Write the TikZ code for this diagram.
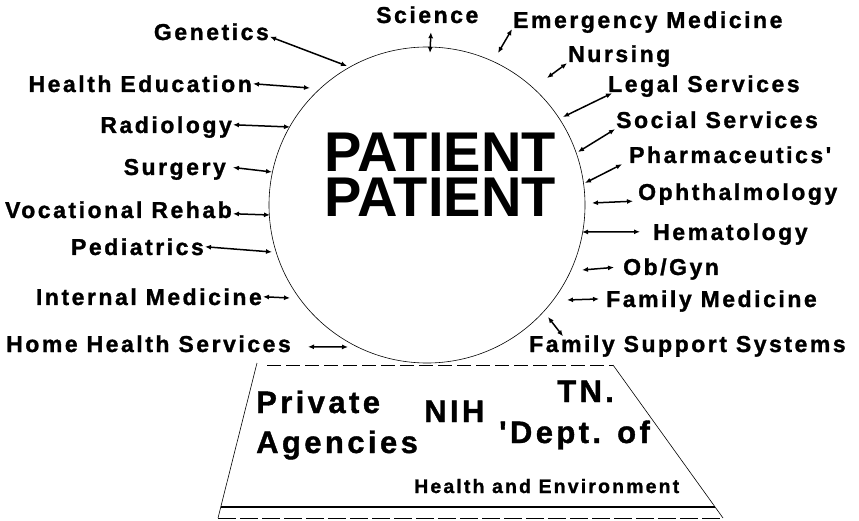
\documentclass[tikz,border=0pt]{standalone}
\usepackage{fontspec}
\setmainfont{Liberation Sans}
\newfontfamily\spacedfont{Liberation Sans Bold}[LetterSpace=11, FakeBold=1.2]
\usetikzlibrary{arrows.meta}

\tikzset{
  field/.style={font=\spacedfont\fontsize{23}{26}\selectfont,
    inner sep=1pt, text height=16.5pt, text depth=0pt},
  agency/.style={font=\spacedfont\fontsize{31}{34}\selectfont,
    inner sep=1pt, text height=22pt, text depth=0pt},
  title/.style={font=\bfseries\fontsize{56}{45}\selectfont,
    inner sep=0pt, text height=40pt, text depth=0pt},
  link/.style={<->, line width=1.5pt},
  rim/.style={line width=0.6pt},
}

\begin{document}
\begin{tikzpicture}[x=1pt, y=-1pt, >={Latex[length=6pt,width=5pt]}]
  \useasboundingbox (0,0) rectangle (859,521);

  % Circle
  \node[draw, circle, rim, minimum size=316pt] (pat) at (427,205) {};
  \node[title, anchor=base] (name1) at (440,172) {PATIENT};
  \node[title, anchor=base] (name2) at (440,217) {PATIENT};

  % Nodes (left)
  \node[field, anchor=base east] (gen) at (270,40) {Genetics};
  \node[field, anchor=base east] (hed) at (253,92) {Health Education};
  \node[field, anchor=base east] (rad) at (233,133) {Radiology};
  \node[field, anchor=base east] (sur) at (227,175) {Surgery};
  \node[field, anchor=base east] (voc) at (233,218) {Vocational Rehab};
  \node[field, anchor=base east] (ped) at (205,255) {Pediatrics};
  \node[field, anchor=base east] (int) at (263,305) {Internal Medicine};
  \node[field, anchor=base east] (hhs) at (292,352) {Home Health Services};

  % Nodes (right)
  \node[field, anchor=base west] (sci) at (375,23) {Science};
  \node[field, anchor=base west] (emr) at (512,28) {Emergency Medicine};
  \node[field, anchor=base west] (nur) at (567,62) {Nursing};
  \node[field, anchor=base west] (leg) at (607,92) {Legal Services};
  \node[field, anchor=base west] (soc) at (615,128) {Social Services};
  \node[field, anchor=base west] (pha) at (628,163) {Pharmaceutics'};
  \node[field, anchor=base west] (oph) at (637,200) {Ophthalmology};
  \node[field, anchor=base west] (hem) at (652,240) {Hematology};
  \node[field, anchor=base west] (obg) at (622,275) {Ob/Gyn};
  \node[field, anchor=base west] (fam) at (605,307) {Family Medicine};
  \node[field, anchor=base west] (fss) at (528,352) {Family Support Systems};

  % Ends at the circle
  \coordinate (c-gen) at (347,66);
  \coordinate (c-hed) at (310,88);
  \coordinate (c-rad) at (290,127);
  \coordinate (c-sur) at (272,172);
  \coordinate (c-voc) at (270,215);
  \coordinate (c-ped) at (272,252);
  \coordinate (c-int) at (290,298);
  \coordinate (c-hhs) at (348,347);
  \coordinate (c-sci) at (430,53);
  \coordinate (c-emr) at (498,53);
  \coordinate (c-nur) at (547,78);
  \coordinate (c-leg) at (563,117);
  \coordinate (c-soc) at (578,152);
  \coordinate (c-pha) at (585,183);
  \coordinate (c-oph) at (592,203);
  \coordinate (c-hem) at (582,232);
  \coordinate (c-obg) at (582,270);
  \coordinate (c-fam) at (567,300);
  \coordinate (c-fss) at (548,317);

  % Arrows
  \draw[link] ([yshift=-5pt]gen.east) -- (c-gen);
  \draw[link] (hed.east) -- (c-hed);
  \draw[link] (rad.east) -- (c-rad);
  \draw[link, shorten <=6pt] (sur.east) -- (c-sur);
  \draw[link] ([yshift=-4pt]voc.east) -- (c-voc);
  \draw[link] (ped.east) -- (c-ped);
  \draw[link] (int.east) -- (c-int);
  \draw[link, shorten <=16pt] ([yshift=-3pt]hhs.east) -- (c-hhs);
  \draw[link, shorten <=8pt] ([xshift=4pt]sci.south) -- (c-sci);
  \draw[link] (emr.south west) -- (c-emr);
  \draw[link] (nur.south west) -- (c-nur);
  \draw[link] ([xshift=5pt]leg.south west) -- (c-leg);
  \draw[link] (soc.south west) -- (c-soc);
  \draw[link] ([xshift=-6pt]pha.south west) -- (c-pha);
  \draw[link] ([xshift=-4pt]oph.south west) -- (c-oph);
  \draw[link, shorten <=12pt] (hem.west) -- (c-hem);
  \draw[link, shorten <=8pt] (obg.west) -- (c-obg);
  \draw[link, shorten <=6pt] (fam.west) -- (c-fam);
  \draw[link] ([xshift=35pt, yshift=-2pt]fss.north west) -- (c-fss);

  % Base
  \coordinate (tl) at (257,363);
  \coordinate (tr) at (613,365);
  \coordinate (bl) at (218,518);
  \coordinate (br) at (723,518);
  \draw[rim] (tl) -- (bl);
  \draw[rim] (tr) -- (br);
  \draw[rim, dash pattern=on 14pt off 5pt] (267,365) -- (tr);
  \draw[line width=1.6pt] (220.7,507) -- (715,507);
  \draw[rim, dash pattern=on 18pt off 4pt] (bl) -- (br);

  \node[agency, anchor=base west] (prv) at (255,413) {Private};
  \node[agency, anchor=base west] (agc) at (255,453) {Agencies};
  \node[agency, anchor=base west] (nih) at (423,422) {NIH};
  \node[agency, anchor=base west] (tnd) at (556,402) {TN.};
  \node[agency, anchor=base west] (dpt) at (498,443) {'Dept. of};
  \node[field, anchor=base west, font=\spacedfont\fontsize{19.5}{22}\selectfont]
    (env) at (413,493) {Health and Environment};
\end{tikzpicture}
\end{document}
